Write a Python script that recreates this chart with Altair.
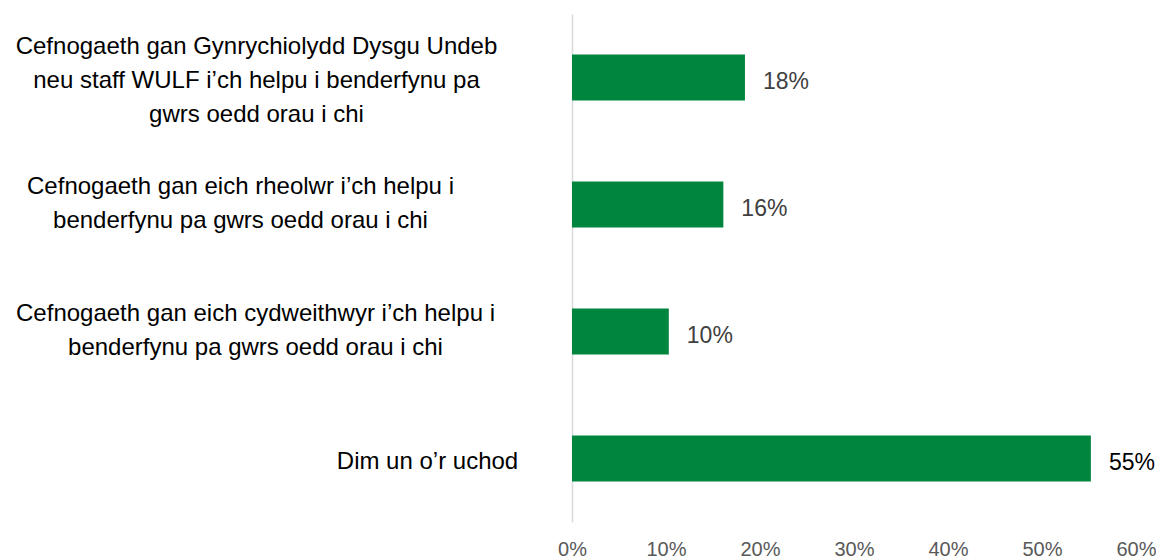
import altair as alt
import pandas as pd

categories = [
    "Cefnogaeth gan Gynrychiolydd Dysgu Undeb|neu staff WULF i’ch helpu i benderfynu pa|gwrs oedd orau i chi",
    "Cefnogaeth gan eich rheolwr i’ch helpu i|benderfynu pa gwrs oedd orau i chi",
    "Cefnogaeth gan eich cydweithwyr i’ch helpu i|benderfynu pa gwrs oedd orau i chi",
    "Dim un o’r uchod",
]
values = [0.184, 0.161, 0.103, 0.552]
x_ticks = [0, 0.1, 0.2, 0.3, 0.4, 0.5, 0.6]

df = pd.DataFrame({"cat": categories, "val": values})

FONT = "Liberation Sans"
GREEN = "#00853E"

label_pad = {
    "condition": [
        {"test": "indexof(datum.value, 'Dim') == 0", "value": 145},
        {"test": "indexof(datum.value, 'rheolwr') >= 0", "value": 332},
        {"test": "indexof(datum.value, 'cydweithwyr') >= 0", "value": 317},
    ],
    "value": 316,
}

label_off = {
    "condition": [
        {"test": "indexof(datum.value, 'Dim') == 0", "value": 3},
        {"test": "indexof(datum.value, 'Undeb') >= 0", "value": -31},
    ],
    "value": -18,
}

y_enc = alt.Y(
    "cat:N",
    sort=categories,
    title=None,
    scale=alt.Scale(paddingInner=0.638, paddingOuter=0.319),
    axis=alt.Axis(
        labelExpr="split(datum.label, '|')",
        labelAlign="center",
        labelBaseline="middle",
        labelFont=FONT,
        labelFontSize=24,
        labelColor="#000000",
        labelLineHeight=34,
        labelLimit=0,
        ticks=False,
        tickSize=0,
        grid=False,
        domainColor="#d9d9d9",
        domainWidth=1.5,
        labelPadding=label_pad,
        labelOffset=label_off,
    ),
)

x_enc = alt.X(
    "val:Q",
    title=None,
    scale=alt.Scale(domain=[0, 0.6], nice=False, zero=True),
    axis=alt.Axis(
        format=".0%",
        values=x_ticks,
        grid=False,
        domain=False,
        ticks=False,
        tickSize=0,
        labelFont=FONT,
        labelFontSize=20,
        labelColor="#595959",
        labelPadding=17,
        labelFlush=False,
        labelOverlap=False,
    ),
)

bars = alt.Chart(df).mark_bar(color=GREEN).encode(x=x_enc, y=y_enc)

text = alt.Chart(df).mark_text(
    align="left", baseline="middle", dx=18, dy=4, font=FONT, fontSize=23
).encode(
    x="val:Q",
    y=alt.Y("cat:N", sort=categories),
    text=alt.Text("val:Q", format=".0%"),
    color=alt.condition("datum.val > 0.5", alt.value("#000000"), alt.value("#404040")),
)

chart = (
    (bars + text)
    .properties(
        width=564,
        height=508,
        autosize=alt.AutoSizeParams(type="none"),
        padding={"left": 564, "top": 6, "right": 20, "bottom": 36},
    )
    .configure_view(stroke=None)
)

chart.save("out.html", embed_options={"renderer": "svg", "actions": False})
